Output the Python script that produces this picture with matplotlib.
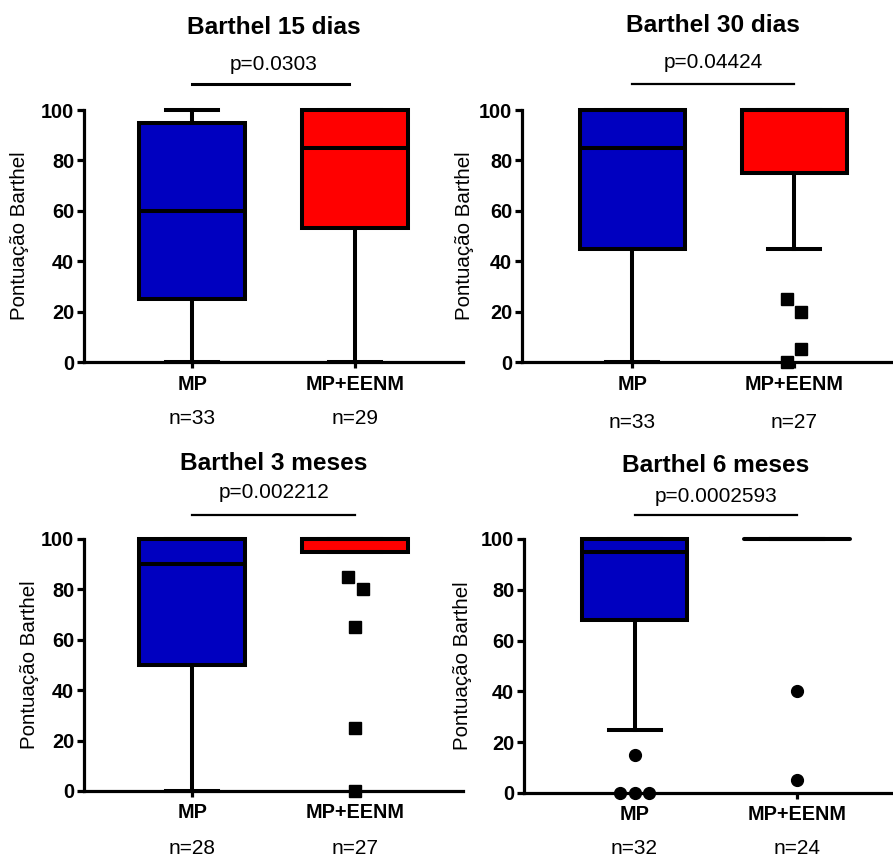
import numpy as np
import matplotlib.pyplot as plt

plt.rcParams["font.family"] = ["Liberation Sans", "DejaVu Sans"]

# ================== DATA ==================
titles = ["Barthel 15 dias", "Barthel 30 dias", "Barthel 3 meses", "Barthel 6 meses"]
p_values = ["p=0.0303", "p=0.04424", "p=0.002212", "p=0.0002593"]
groups = ["MP", "MP+EENM"]
n_mp = [33, 33, 28, 32]
n_eenm = [29, 27, 27, 24]

# box stats: whislo, q1, med, q3, whishi
mp_stats = [
    [0, 25, 60, 95, 100],
    [0, 45, 85, 100, 100],
    [0, 50, 90, 100, 100],
    [25, 68, 95, 100, 100],
]
eenm_stats = [
    [0, 53, 85, 100, 100],
    [45, 75, 100, 100, 100],
    [95, 95, 100, 100, 100],
    [100, 100, 100, 100, 100],
]

# outliers (values) and their small horizontal jitter
mp_fliers = [[], [], [], [15, 0, 0, 0]]
mp_jitter = [[], [], [], [0, -0.09, 0, 0.09]]
eenm_fliers = [[], [25, 20, 5, 0], [85, 80, 65, 25, 0], [40, 5]]
eenm_jitter = [[], [-0.045, 0.045, 0.045, -0.045], [-0.045, 0.045, 0, 0, 0], [0, 0]]
flier_marker = ["s", "s", "s", "o"]

BLUE = "#0000C0"
RED = "#FF0000"

# ================== LAYOUT (pixels) ==================
W, H = 893, 861
# left, right, y0 pixel, y100 pixel
boxes_px = [
    (84, 463, 362, 110),
    (522, 893, 362, 110),
    (84, 463, 791, 539),
    (524, 893, 793, 539),
]
xlims = [(0.337, 2.66), (0.32, 2.61), (0.337, 2.66), (0.32, 2.59)]
title_y = [27, 25, 464, 466]
p_y = [65, 63, 492, 497]
line_y = [84, 84, 515, 515]
line_x = [(1, 1.96), (1, 2), (1, 2), (1, 2)]
line_w = [2.2, 1.6, 1.6, 1.6]
n_off = [56, 61, 58, 56]
ylab_x = [20, 465, 30, 462]

LW = 2.9

fig = plt.figure(figsize=(W / 100, H / 100), dpi=100)

for k in range(4):
    l, r, y0, y1 = boxes_px[k]
    ax = fig.add_axes([l / W, 1 - y0 / H, (r - l) / W, (y0 - y1) / H])
    ax.set_xlim(*xlims[k])
    ax.set_ylim(0, 100)

    stats = []
    for s in (mp_stats[k], eenm_stats[k]):
        stats.append(dict(whislo=s[0], q1=s[1], med=s[2], q3=s[3], whishi=s[4]))
    bp = ax.bxp(stats, positions=[1, 2], widths=0.65, capwidths=0.32,
                showfliers=False, patch_artist=True,
                boxprops=dict(linewidth=LW, edgecolor="black"),
                medianprops=dict(color="black", linewidth=LW),
                whiskerprops=dict(color="black", linewidth=LW),
                capprops=dict(color="black", linewidth=LW))
    bp["boxes"][0].set_facecolor(BLUE)
    bp["boxes"][1].set_facecolor(RED)
    for art in bp["boxes"] + bp["medians"] + bp["whiskers"] + bp["caps"]:
        art.set_clip_on(False)
        art.set_zorder(3)
    if k == 3:
        bp["medians"][1].set_solid_capstyle("round")

    # outliers
    ms = 8 if flier_marker[k] == "s" else 8.5
    if mp_fliers[k]:
        ax.plot(1 + np.array(mp_jitter[k]), mp_fliers[k], flier_marker[k],
                color="black", ms=ms, clip_on=False, zorder=4)
    if eenm_fliers[k]:
        ax.plot(2 + np.array(eenm_jitter[k]), eenm_fliers[k], flier_marker[k],
                color="black", ms=ms, clip_on=False, zorder=4)

    # axes style
    ax.spines["top"].set_visible(False)
    ax.spines["right"].set_visible(False)
    ax.spines["left"].set_linewidth(2.3)
    ax.spines["bottom"].set_linewidth(2.3)
    ax.set_yticks([0, 20, 40, 60, 80, 100])
    ax.tick_params(axis="y", length=5, width=2.3, labelsize=14.3, pad=2)
    ax.tick_params(axis="x", length=4, width=2.3, labelsize=14.3, pad=5)
    for t in ax.get_yticklabels():
        t.set_fontweight("bold")
    ax.set_xticks([1, 2])
    ax.set_xticklabels(groups, fontweight="bold")

    ax.set_ylabel("Pontuação Barthel", fontsize=14.8, va="center")
    ax.yaxis.set_label_coords(ylab_x[k] / W, 1 - (y0 + y1) / 2 / H,
                              transform=fig.transFigure)

    # n labels
    for x, n in zip([1, 2], [n_mp[k], n_eenm[k]]):
        ax.annotate(f"n={n}", xy=(x, 0), xytext=(0, -n_off[k]),
                    textcoords="offset pixels", ha="center", va="center",
                    fontsize=15, annotation_clip=False)

    # title, p value, bar
    cx = ax.transData.transform((1.5, 0))[0] / W
    fig.text(cx, 1 - title_y[k] / H, titles[k], ha="center", va="center",
             fontsize=17.6, fontweight="bold")
    fig.text(cx, 1 - p_y[k] / H, p_values[k], ha="center", va="center",
             fontsize=15)
    x0 = ax.transData.transform((line_x[k][0], 0))[0] / W
    x1 = ax.transData.transform((line_x[k][1], 0))[0] / W
    fig.add_artist(plt.Line2D([x0, x1], [1 - line_y[k] / H] * 2,
                              color="black", linewidth=line_w[k]))

fig.savefig("out.png", dpi=100)
